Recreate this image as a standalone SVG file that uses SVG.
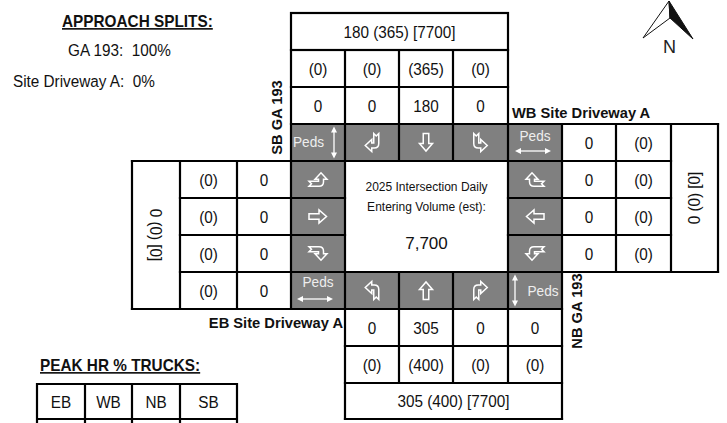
<svg xmlns="http://www.w3.org/2000/svg" width="727" height="423" viewBox="0 0 727 423">
<style>
text{font-family:"Liberation Sans",Arial,sans-serif;fill:#111}
.v{font-size:17px;text-anchor:middle}
.b{font-weight:bold;font-size:14.7px}
.h{font-weight:bold;font-size:16.5px;text-decoration:underline}
.s{font-size:17px}
.c{font-size:13.5px;text-anchor:middle}
.peds{font-size:15.5px;fill:#eeeeee}
.gray{fill:#808080}
.grid{stroke:#000;stroke-width:2.2;fill:none;stroke-linecap:square}
.ico{fill:none;stroke:#fff;stroke-width:1.5;stroke-linejoin:miter}
.ped{stroke:#fff;stroke-width:1.3}
.pedh{fill:#fff}
</style>
<defs>
<path id="turn" d="M-6.75,9 L-6.75,-1 Q-6.75,-5.5 -2.25,-5.5 L0.25,-5.5 L0.25,-9 L6.75,-3 L0.25,3 L0.25,-0.5 L-1.75,-0.5 L-1.75,9 L-4.25,6.5 Z"/>
<path id="thru" d="M-2.75,9 L2.75,9 L2.75,-1 L6.5,-1 L0,-8.5 L-6.5,-1 L-2.75,-1 Z"/>
<g id="pedv"><line class="ped" x1="0" y1="-11" x2="0" y2="11"/><polygon class="pedh" points="0,-16 -3,-10 3,-10"/><polygon class="pedh" points="0,16 -3,10 3,10"/></g>
<g id="pedh"><line class="ped" x1="-13" y1="0" x2="13" y2="0"/><polygon class="pedh" points="-18,0 -12,-3 -12,3"/><polygon class="pedh" points="18,0 12,-3 12,3"/></g>
</defs>
<rect width="727" height="423" fill="#fff"/>

<g id="legend-splits">
<text class="h" transform="translate(62,27) scale(0.93,1)">APPROACH SPLITS:</text>
<text class="s" transform="translate(68,56) scale(0.9,1)" xml:space="preserve">GA 193:  100%</text>
<text class="s" transform="translate(13,87) scale(0.9,1)" xml:space="preserve">Site Driveway A:  0%</text>
</g>

<g id="north-arrow">
<polygon points="669,1 643,38 670,18" fill="#fff" stroke="#111" stroke-width="1"/>
<polygon points="669,1 693,39 670,18" fill="#111" stroke="#111" stroke-width="1"/>
<text x="669.5" y="53" style="font-size:18px;text-anchor:middle;fill:#222">N</text>
</g>

<g id="gray-cells">
<rect class="gray" x="291" y="124" width="271" height="37"/>
<rect class="gray" x="291" y="161" width="54" height="148"/>
<rect class="gray" x="508" y="161" width="54" height="148"/>
<rect class="gray" x="345" y="272" width="163" height="37"/>
</g>

<g id="grid-lines" class="grid">
<rect x="291" y="13" width="217" height="37"/>
<path d="M291,87H508M291,124H718M132,161H671M180,198H345M508,198H671M180,235H345M508,235H671M180,272H718M132,309H562M345,346H562M345,383H562M345,419H562"/>
<path d="M132,161V309M180,161V309M237,161V309M291,50V309M345,50V419M399,50V161M453,50V161M399,272V383M453,272V383M508,50V383M562,124V419M616,124V272M671,124V272M718,124V272"/>
</g>

<g id="sb-approach">
<text class="v" transform="translate(399.5,37.6) scale(0.9,1)">180 (365) [7700]</text>
<text class="v" transform="translate(318,74.6) scale(0.9,1)">(0)</text>
<text class="v" transform="translate(372,74.6) scale(0.9,1)">(0)</text>
<text class="v" transform="translate(426,74.6) scale(0.9,1)">(365)</text>
<text class="v" transform="translate(480.5,74.6) scale(0.9,1)">(0)</text>
<text class="v" transform="translate(318,111.6) scale(0.9,1)">0</text>
<text class="v" transform="translate(372,111.6) scale(0.9,1)">0</text>
<text class="v" transform="translate(426,111.6) scale(0.9,1)">180</text>
<text class="v" transform="translate(480.5,111.6) scale(0.9,1)">0</text>
<text class="b" transform="translate(282,117.5) rotate(-90)" text-anchor="middle">SB GA 193</text>
<text class="peds" transform="translate(293,147) scale(0.88,1)">Peds</text>
<use href="#pedv" x="334" y="142.5"/>
<use href="#turn" class="ico" transform="translate(372,142.5) rotate(180)"/>
<use href="#thru" class="ico" transform="translate(426,142.5) rotate(180)"/>
<use href="#turn" class="ico" transform="translate(480.5,142.5) scale(1,-1)"/>
</g>

<g id="eb-approach">
<text class="v" transform="translate(150,235) rotate(90) scale(0.9,1)">0 (0) [0]</text>
<text class="v" transform="translate(208.5,185.6) scale(0.9,1)">(0)</text>
<text class="v" transform="translate(264,185.6) scale(0.9,1)">0</text>
<text class="v" transform="translate(208.5,222.6) scale(0.9,1)">(0)</text>
<text class="v" transform="translate(264,222.6) scale(0.9,1)">0</text>
<text class="v" transform="translate(208.5,259.6) scale(0.9,1)">(0)</text>
<text class="v" transform="translate(264,259.6) scale(0.9,1)">0</text>
<text class="v" transform="translate(208.5,296.6) scale(0.9,1)">(0)</text>
<text class="v" transform="translate(264,296.6) scale(0.9,1)">0</text>
<use href="#turn" class="ico" transform="translate(318,179.5) rotate(90) scale(-1,1)"/>
<use href="#thru" class="ico" transform="translate(318,216.5) rotate(90)"/>
<use href="#turn" class="ico" transform="translate(318,253.5) rotate(90)"/>
<text class="peds" transform="translate(318,287) scale(0.88,1)" text-anchor="middle">Peds</text>
<use href="#pedh" x="315" y="299"/>
<text class="b" x="343" y="328" text-anchor="end">EB Site Driveway A</text>
</g>

<g id="wb-approach">
<text class="b" x="512" y="118">WB Site Driveway A</text>
<text class="peds" transform="translate(535,141) scale(0.88,1)" text-anchor="middle">Peds</text>
<use href="#pedh" x="533" y="151"/>
<use href="#turn" class="ico" transform="translate(535,179.5) rotate(-90)"/>
<use href="#thru" class="ico" transform="translate(535,216.5) rotate(-90)"/>
<use href="#turn" class="ico" transform="translate(535,253.5) rotate(-90) scale(-1,1)"/>
<text class="v" transform="translate(589,148.6) scale(0.9,1)">0</text>
<text class="v" transform="translate(643.5,148.6) scale(0.9,1)">(0)</text>
<text class="v" transform="translate(589,185.6) scale(0.9,1)">0</text>
<text class="v" transform="translate(643.5,185.6) scale(0.9,1)">(0)</text>
<text class="v" transform="translate(589,222.6) scale(0.9,1)">0</text>
<text class="v" transform="translate(643.5,222.6) scale(0.9,1)">(0)</text>
<text class="v" transform="translate(589,259.6) scale(0.9,1)">0</text>
<text class="v" transform="translate(643.5,259.6) scale(0.9,1)">(0)</text>
<text class="v" transform="translate(700,198) rotate(-90) scale(0.9,1)">0 (0) [0]</text>
</g>

<g id="nb-approach">
<use href="#turn" class="ico" transform="translate(372,290.5) scale(-1,1)"/>
<use href="#thru" class="ico" transform="translate(426,290.5)"/>
<use href="#turn" class="ico" transform="translate(480.5,290.5)"/>
<use href="#pedv" x="515" y="290.5"/>
<text class="peds" transform="translate(543,296) scale(0.88,1)" text-anchor="middle">Peds</text>
<text class="b" transform="translate(582,311) rotate(-90)" text-anchor="middle">NB GA 193</text>
<text class="v" transform="translate(372,333.6) scale(0.9,1)">0</text>
<text class="v" transform="translate(426,333.6) scale(0.9,1)">305</text>
<text class="v" transform="translate(480.5,333.6) scale(0.9,1)">0</text>
<text class="v" transform="translate(535,333.6) scale(0.9,1)">0</text>
<text class="v" transform="translate(372,370.6) scale(0.9,1)">(0)</text>
<text class="v" transform="translate(426,370.6) scale(0.9,1)">(400)</text>
<text class="v" transform="translate(480.5,370.6) scale(0.9,1)">(0)</text>
<text class="v" transform="translate(535,370.6) scale(0.9,1)">(0)</text>
<text class="v" transform="translate(453.5,407.2) scale(0.9,1)">305 (400) [7700]</text>
</g>

<g id="center">
<text class="c" transform="translate(426.5,191) scale(0.89,1)">2025 Intersection Daily</text>
<text class="c" transform="translate(426.5,211) scale(0.89,1)">Entering Volume (est):</text>
<text x="426.5" y="249" style="font-size:17px;text-anchor:middle">7,700</text>
</g>

<g id="legend-trucks">
<text class="h" transform="translate(40,371) scale(0.93,1)">PEAK HR % TRUCKS:</text>
<path class="grid" d="M37,384H237M37,419H237M37,384V425M85,384V425M132,384V425M180,384V425M237,384V425"/>
<text class="v" transform="translate(61,407.6) scale(0.9,1)">EB</text>
<text class="v" transform="translate(108.5,407.6) scale(0.9,1)">WB</text>
<text class="v" transform="translate(156,407.6) scale(0.9,1)">NB</text>
<text class="v" transform="translate(208.5,407.6) scale(0.9,1)">SB</text>
</g>
</svg>
